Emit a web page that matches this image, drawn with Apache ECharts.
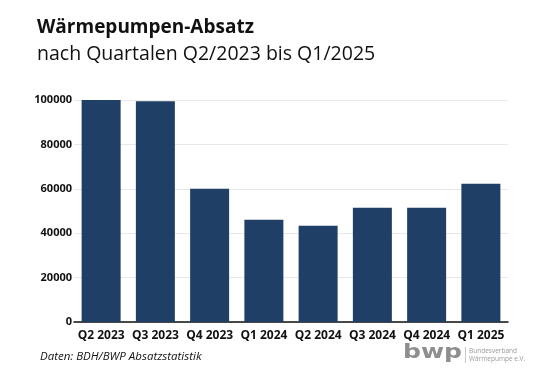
<!DOCTYPE html>
<html><head><meta charset="utf-8">
<script src="https://cdn.jsdelivr.net/npm/echarts@6/dist/echarts.min.js"></script>
<style>html,body{margin:0;padding:0;background:#fff}#c{width:560px;height:374px}</style>
</head><body><div id="c"></div>
<script>
const categories = ['Q2 2023','Q3 2023','Q4 2023','Q1 2024','Q2 2024','Q3 2024','Q4 2024','Q1 2025'];
const sales = [100000, 99400, 60000, 46100, 43400, 51500, 51500, 62300];
const yTicks = [0, 20000, 40000, 60000, 80000, 100000];
const titleText = 'Wärmepumpen-Absatz';
const subtitleText = 'nach Quartalen Q2/2023 bis Q1/2025';
const sourceText = 'Daten: BDH/BWP Absatzstatistik';

const FONT = '"Open Sans", "Noto Sans", sans-serif';
const chart = echarts.init(document.getElementById('c'), null, {renderer:'canvas'});
chart.setOption({
  animation: false,
  backgroundColor: '#fff',
  textStyle: {fontFamily: FONT},
  title: [
    {text: titleText, left: 37, top: 18, padding: 0, textStyle: {fontFamily: FONT, fontWeight: 'bold', fontSize: 19, color: '#111'}},
    {text: subtitleText, left: 37, top: 44, padding: 0, textStyle: {fontFamily: FONT, fontWeight: 'normal', fontSize: 19.5, color: '#111'}}
  ],
  grid: {left: 74, right: 52, top: 100, bottom: 52, containLabel: false},
  xAxis: {
    type: 'category',
    data: categories,
    axisLine: {lineStyle: {color: '#111', width: 1.5}},
    axisTick: {show: false},
    axisLabel: {fontFamily: FONT, fontWeight: 'bold', fontSize: 12, color: '#111', margin: 8, interval: 0}
  },
  yAxis: {
    type: 'value',
    min: yTicks[0], max: yTicks[yTicks.length-1], interval: yTicks[1]-yTicks[0],
    axisLine: {show: false},
    axisTick: {show: false},
    splitLine: {lineStyle: {color: '#e8e8e8', width: 1}},
    axisLabel: {fontFamily: FONT, fontWeight: 'bold', fontSize: 11, color: '#111', margin: 2,
      formatter: function (v) { return String(v); }}
  },
  series: [{
    type: 'bar',
    data: sales,
    barWidth: 39,
    itemStyle: {color: '#1f3f66'}
  }],
  graphic: [
    {type: 'text', left: 40, top: 351, style: {text: sourceText, font: 'italic 11.5px ' + FONT, fill: '#111'}},
    {type: 'text', x: 403, y: 344, scaleX: 1.32, style: {text: 'bwp', font: 'bold 19px "DejaVu Sans", sans-serif', fill: '#8e8e8e'}},
    {type: 'rect', left: 465, top: 347, shape: {width: 0.8, height: 16}, style: {fill: '#bbb'}},
    {type: 'text', left: 469, top: 347, style: {text: 'Bundesverband\nWärmepumpe e.V.', font: '6.5px ' + FONT, fill: '#9a9a9a', lineHeight: 8}}
  ]
});
</script></body></html>
